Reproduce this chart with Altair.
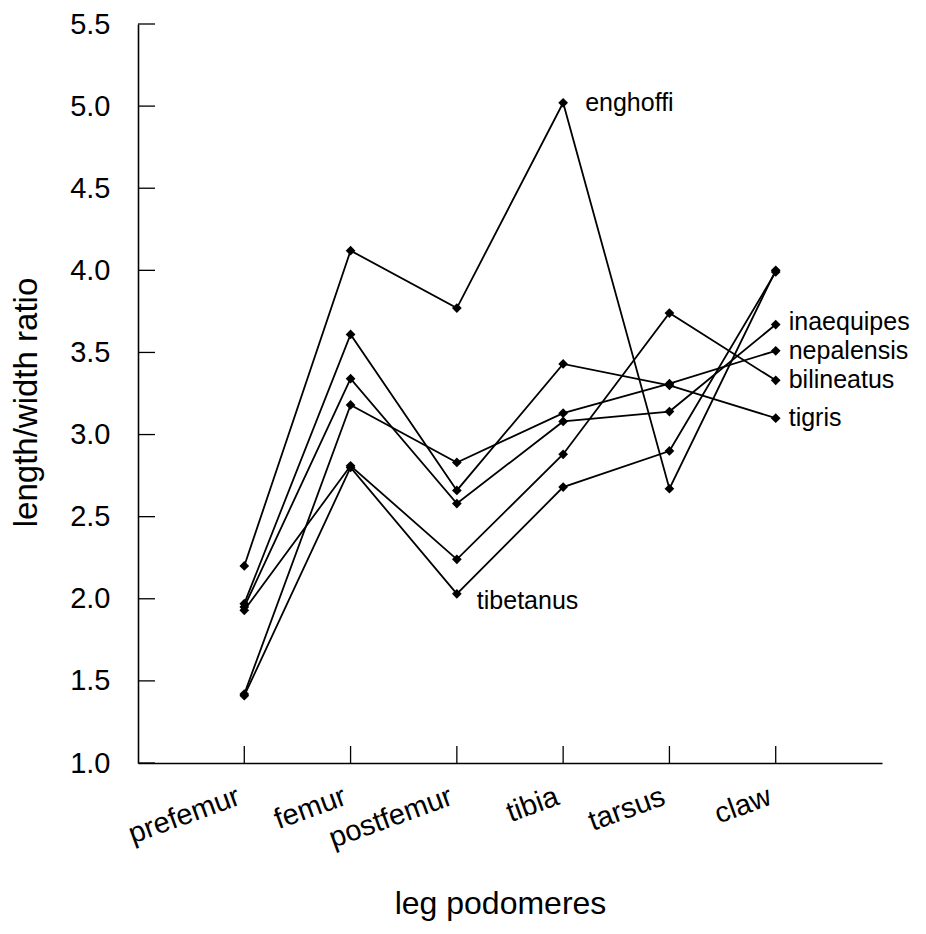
import altair as alt
import pandas as pd

categories = ["prefemur", "femur", "postfemur", "tibia", "tarsus", "claw"]
species = ["enghoffi", "tigris", "inaequipes", "nepalensis", "bilineatus", "tibetanus"]
enghoffi = [2.20, 4.12, 3.77, 5.02, 2.67, 4.00]
tigris = [1.97, 3.61, 2.66, 3.43, 3.30, 3.10]
inaequipes = [1.95, 3.34, 2.58, 3.08, 3.14, 3.67]
nepalensis = [1.42, 3.18, 2.83, 3.13, 3.31, 3.51]
bilineatus = [1.93, 2.81, 2.24, 2.88, 3.74, 3.33]
tibetanus = [1.41, 2.80, 2.03, 2.68, 2.90, 3.99]
y_ticks = [1.0, 1.5, 2.0, 2.5, 3.0, 3.5, 4.0, 4.5, 5.0, 5.5]

series = dict(zip(species, [enghoffi, tigris, inaequipes, nepalensis, bilineatus, tibetanus]))
rows = []
for name, vals in series.items():
    for i, (c, v) in enumerate(zip(categories, vals)):
        rows.append({"species": name, "podomere": c, "idx": i, "ratio": v})
df = pd.DataFrame(rows)

# label anchors: species labelled at the point given by category
label_at = {"enghoffi": "tibia", "tibetanus": "postfemur", "inaequipes": "claw",
            "nepalensis": "claw", "bilineatus": "claw", "tigris": "claw"}
lab = pd.DataFrame([
    {"species": s, "podomere": c, "ratio": series[s][categories.index(c)]}
    for s, c in label_at.items()
])

FONT = "Liberation Sans"
W, H = 744, 739

xscale = alt.Scale(type="point", domain=categories, padding=1)
yscale = alt.Scale(domain=[1.0, 5.5], nice=False, zero=False)

x_enc = alt.X("podomere:O", scale=xscale, sort=categories,
              axis=alt.Axis(title="leg podomeres", labelAngle=340, labelAlign="right",
                            labelBaseline="middle", labelPadding=32, labelOffset=-6,
                            ticks=False, tickSize=0, domainColor="black", domainWidth=1.6,
                            labelFont=FONT, labelFontSize=29, labelColor="black",
                            titleFont=FONT, titleFontSize=32, titleFontWeight="normal",
                            titleColor="black", titleX=362, titleY=140,
                            titleAlign="center", titleBaseline="middle"))
y_enc = alt.Y("ratio:Q", scale=yscale,
              axis=alt.Axis(title="length/width ratio", values=y_ticks, format=".1f",
                            ticks=False, tickSize=0, labelPadding=28,
                            domainColor="black", domainWidth=1.6,
                            labelFont=FONT, labelFontSize=29, labelColor="black",
                            titleFont=FONT, titleFontSize=33, titleFontWeight="normal",
                            titleColor="black", titleAngle=270, titleX=-112, titleY=378,
                            titleAlign="center", titleBaseline="middle"))

lines = alt.Chart(df).mark_line(color="black", strokeWidth=1.8).encode(
    x=x_enc, y=y_enc, detail="species:N", order="idx:Q")
points = alt.Chart(df).mark_point(shape="diamond", filled=True, size=95,
                                  color="black", opacity=1).encode(
    x="podomere:O", y="ratio:Q", detail="species:N")

ytick_df = pd.DataFrame({"ratio": y_ticks})
yticks = alt.Chart(ytick_df).mark_rule(color="black", strokeWidth=1.3).encode(
    y="ratio:Q", x=alt.value(0), x2=alt.value(17))
xtick_df = pd.DataFrame({"podomere": categories})
xticks = alt.Chart(xtick_df).mark_rule(color="black", strokeWidth=1.3).encode(
    x="podomere:O", y=alt.value(H), y2=alt.value(H - 17))

def text_layer(names, dx, dy):
    return alt.Chart(lab[lab["species"].isin(names)]).mark_text(
        align="left", baseline="middle", dx=dx, dy=dy, font=FONT, fontSize=25,
        color="black").encode(x="podomere:O", y="ratio:Q", text="species:N")

t1 = text_layer(["enghoffi"], 22, 0)
t2 = text_layer(["tibetanus"], 20, 7)
t3a = text_layer(["inaequipes"], 13, -3)
t3 = text_layer(["nepalensis", "bilineatus", "tigris"], 13, 0)

chart = alt.layer(lines, yticks, xticks, points, t1, t2, t3a, t3).properties(
    width=W, height=H,
    autosize=alt.AutoSizeParams(type="none"),
    padding={"left": 130, "top": 16, "right": 36, "bottom": 160},
).configure_view(stroke=None).configure_axis(grid=False)

chart.save("out.html", embed_options={"renderer": "svg", "actions": False})
